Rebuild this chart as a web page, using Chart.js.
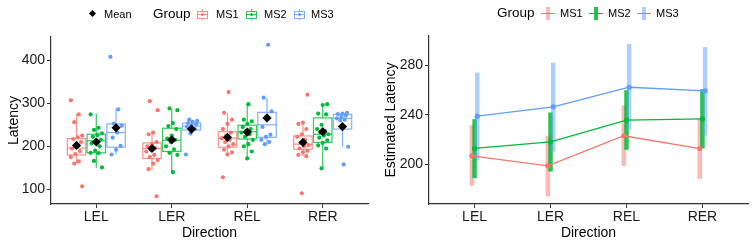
<!DOCTYPE html>
<html>
<head>
<meta charset="utf-8">
<script src="https://cdn.jsdelivr.net/npm/chart.js@4.4.0/dist/chart.umd.min.js"></script>
<style>
body { margin: 0; background: #fff; font-family: "Liberation Sans", Arial, sans-serif; }
#wrap { position: relative; width: 755px; height: 243px; overflow: hidden; }
canvas { position: absolute; top: 0; }
#leftChart { left: 0; }
#rightChart { left: 380px; }
.lg { position: absolute; top: 0; line-height: 28px; color: #000; white-space: nowrap; }
.lg.small { font-size: 11px; }
.lg.title { font-size: 13.5px; }
.diamond { position: absolute; top: 11px; left: 90px; width: 5px; height: 5px; background: #000; transform: rotate(45deg); }
.boxkey { position: absolute; top: 9px; width: 11px; height: 11px; }
.boxkey .b { position: absolute; left: 0; top: 2px; width: 9px; height: 6px; border: 1px solid; }
.boxkey .w { position: absolute; left: 5px; top: 0; width: 1px; height: 11px; }
.boxkey .m { position: absolute; left: 0; top: 5px; width: 11px; height: 1px; }
.boxkey .d { position: absolute; left: 4px; top: 4px; width: 3px; height: 3px; border-radius: 50%; }
.barkey { position: absolute; top: 7px; width: 14px; height: 13px; }
.barkey .v { position: absolute; left: 5px; top: 0; width: 4px; height: 13px; }
.barkey .h { position: absolute; left: 0; top: 6px; width: 14px; height: 1.3px; }
</style>
</head>
<body>
<div id="wrap">
  <canvas id="leftChart" width="380" height="243"></canvas>
  <canvas id="rightChart" width="375" height="243"></canvas>
  <div id="legends"></div>
</div>
<script>
// categories and groups
const directions = ['LEL', 'LER', 'REL', 'RER'];
const groups = ['MS1', 'MS2', 'MS3'];
const groupColors = ['#F8766D', '#00BA38', '#619CFF'];

// left panel: individual latencies, one list per direction
const ms1Points = [
  [307, 274, 256, 225, 221, 217, 210, 200, 195, 189, 182, 175, 165, 160, 107],
  [305, 284, 232, 228, 210, 205, 200, 196, 192, 188, 180, 175, 168, 160, 147, 84],
  [326, 278, 262, 252, 240, 232, 225, 219, 215, 210, 205, 200, 192, 186, 181, 128],
  [320, 255, 252, 240, 228, 222, 215, 208, 203, 200, 195, 190, 186, 180, 177, 91]
];
const ms2Points = [
  [274, 243, 238, 230, 226, 222, 215, 212, 207, 200, 190, 185, 184, 166, 151],
  [288, 284, 254, 247, 240, 225, 218, 215, 210, 200, 193, 185, 180, 140],
  [298, 262, 258, 252, 245, 240, 236, 232, 228, 222, 215, 205, 200, 188, 172],
  [298, 296, 276, 274, 250, 240, 236, 232, 228, 225, 220, 214, 208, 202, 195, 149]
];
const ms3Points = [
  [408, 286, 253, 248, 232, 220, 201, 192, 181],
  [262, 259, 257, 254, 251, 248, 245, 240, 230, 181],
  [436, 313, 281, 262, 245, 227, 222, 215, 210, 205],
  [278, 276, 275, 272, 268, 265, 262, 260, 199, 158]
];
// box stats per direction: [lower whisker, q1, median, q3, upper whisker]
const ms1Box = [[160, 180, 196, 218, 274], [147, 172, 195, 208, 230], [181, 198, 219, 234, 278], [177, 193, 205, 224, 257]];
const ms2Box = [[150, 185, 213, 228, 276], [140, 188, 214, 242, 288], [172, 217, 234, 249, 298], [149, 209, 228, 266, 299]];
const ms3Box = [[181, 198, 232, 252, 288], [226, 238, 247, 254, 261], [206, 221, 250, 279, 312], [199, 240, 265, 274, 280]];
const ms1Mean = [202, 195, 221, 209];
const ms2Mean = [210, 215, 233, 234];
const ms3Mean = [243, 240, 266, 246];
const latencyTicks = [100, 200, 300, 400];

// right panel: estimated latency with interval
const ms1Est = [206.7, 198.6, 223.0, 212.6];
const ms1Lo = [182.4, 173.7, 198.6, 188.0];
const ms1Hi = [231.6, 223.0, 247.8, 237.4];
const ms2Est = [212.7, 218.0, 235.7, 236.7];
const ms2Lo = [188.6, 194.0, 211.6, 212.7];
const ms2Hi = [236.5, 241.9, 260.0, 260.8];
const ms3Est = [238.9, 246.5, 262.4, 259.5];
const ms3Lo = [203.0, 210.0, 227.8, 223.0];
const ms3Hi = [274.3, 282.4, 297.6, 294.9];
const estTicks = [200, 240, 280];

const allPoints = [ms1Points, ms2Points, ms3Points];
const allBoxes = [ms1Box, ms2Box, ms3Box];
const allMeans = [ms1Mean, ms2Mean, ms3Mean];
const allEst = [ms1Est, ms2Est, ms3Est];
const allLo = [ms1Lo, ms2Lo, ms3Lo];
const allHi = [ms1Hi, ms2Hi, ms3Hi];

const boxDodge = [-0.262, 0, 0.262];
const boxHalf = 0.122;
const lineDodge = [-0.035, 0, 0.035];

function alpha(hex, a) {
  const n = parseInt(hex.slice(1), 16);
  return 'rgba(' + (n >> 16) + ',' + ((n >> 8) & 255) + ',' + (n & 255) + ',' + a + ')';
}

const axisColor = '#333333';
const tickFont = { family: '"Liberation Sans", Arial, sans-serif', size: 14 };
const titleFont = { family: '"Liberation Sans", Arial, sans-serif', size: 14 };

function xAxis() {
  return {
    type: 'linear', min: 0.4, max: 4.6,
    afterBuildTicks: s => { s.ticks = directions.map((_, i) => ({ value: i + 1 })); },
    afterFit: s => { s.height = 39; },
    ticks: { autoSkip: false, maxRotation: 0, padding: 1, color: '#1a1a1a', font: tickFont,
      callback: v => directions[Math.round(v) - 1] },
    grid: { drawOnChartArea: false, tickLength: 4, color: axisColor, lineWidth: 1 },
    border: { color: axisColor, width: 1.2 },
    title: { display: true, text: 'Direction', color: '#000', font: titleFont, padding: { top: 0, bottom: 1 } }
  };
}

function yAxis(min, max, ticks, title, width, titlePad) {
  return {
    type: 'linear', min: min, max: max,
    afterBuildTicks: s => { s.ticks = ticks.map(v => ({ value: v })); },
    afterFit: s => { s.width = width; },
    ticks: { padding: 2, color: '#1a1a1a', font: tickFont },
    grid: { drawOnChartArea: false, tickLength: 4, color: axisColor, lineWidth: 1 },
    border: { color: axisColor, width: 1.2 },
    title: { display: true, text: title, color: '#000', font: titleFont, padding: { top: titlePad, bottom: 0 } }
  };
}

// boxes drawn under the jittered points
const boxPlugin = {
  id: 'boxes',
  beforeDatasetsDraw(chart) {
    const { ctx, scales: { x, y } } = chart;
    allBoxes.forEach((boxes, g) => {
      boxes.forEach((s, d) => {
        const cx = d + 1 + boxDodge[g];
        const x0 = x.getPixelForValue(cx - boxHalf);
        const x1 = x.getPixelForValue(cx + boxHalf);
        const xm = x.getPixelForValue(cx);
        const [lo, q1, med, q3, hi] = s.map(v => y.getPixelForValue(v));
        ctx.save();
        ctx.strokeStyle = alpha(groupColors[g], 0.8);
        ctx.lineWidth = 1.2;
        ctx.beginPath();
        ctx.moveTo(xm, q3); ctx.lineTo(xm, hi);
        ctx.moveTo(xm, q1); ctx.lineTo(xm, lo);
        ctx.stroke();
        ctx.strokeRect(x0, q3, x1 - x0, q1 - q3);
        ctx.beginPath();
        ctx.moveTo(x0, med); ctx.lineTo(x1, med);
        ctx.stroke();
        ctx.restore();
      });
    });
  }
};

// thick translucent interval bars under the lines
const barAlpha = [0.5, 0.85, 0.5];
const barPlugin = {
  id: 'intervals',
  beforeDatasetsDraw(chart) {
    const { ctx, scales: { x, y } } = chart;
    allEst.forEach((est, g) => {
      est.forEach((_, d) => {
        const px = x.getPixelForValue(d + 1 + lineDodge[g]);
        ctx.save();
        ctx.strokeStyle = alpha(groupColors[g], barAlpha[g]);
        ctx.lineWidth = 4.5;
        ctx.beginPath();
        ctx.moveTo(px, y.getPixelForValue(allLo[g][d]));
        ctx.lineTo(px, y.getPixelForValue(allHi[g][d]));
        ctx.stroke();
        ctx.restore();
      });
    });
  }
};

const meanData = [];
allMeans.forEach((m, g) => m.forEach((v, d) => meanData.push({ x: d + 1 + boxDodge[g], y: v })));
const leftSets = [{
  label: 'Mean', data: meanData,
  pointStyle: 'rectRot', radius: 4.6, backgroundColor: '#000', borderColor: '#000', borderWidth: 0, order: 0
}];
allPoints.forEach((pts, g) => {
  const data = [];
  pts.forEach((list, d) => {
    list.forEach((v, i) => {
      const jit = (((i * 7 + d * 3) % 11) - 5) * 0.015;
      data.push({ x: d + 1 + boxDodge[g] + jit, y: v });
    });
  });
  leftSets.push({ label: groups[g], data: data, radius: 2.1, backgroundColor: groupColors[g], borderWidth: 0, order: 1 });
});

new Chart(document.getElementById('leftChart'), {
  type: 'scatter',
  data: { datasets: leftSets },
  options: {
    responsive: false, animation: false, devicePixelRatio: 1,
    layout: { padding: { top: 37, right: 12, left: 0, bottom: 0 } },
    plugins: { legend: { display: false }, tooltip: { enabled: false } },
    scales: { x: xAxis(), y: yAxis(66, 454, latencyTicks, 'Latency', 51, 6) }
  },
  plugins: [boxPlugin]
});

new Chart(document.getElementById('rightChart'), {
  type: 'line',
  data: {
    datasets: allEst.map((est, g) => ({
      label: groups[g],
      data: est.map((v, d) => ({ x: d + 1 + lineDodge[g], y: v })),
      borderColor: groupColors[g], backgroundColor: groupColors[g],
      borderWidth: 1.3, pointRadius: 2.6, pointBorderWidth: 0, tension: 0
    }))
  },
  options: {
    responsive: false, animation: false, devicePixelRatio: 1,
    layout: { padding: { top: 36, right: 7, left: 0, bottom: 0 } },
    plugins: { legend: { display: false }, tooltip: { enabled: false } },
    scales: { x: xAxis(), y: yAxis(167.6, 304, estTicks, 'Estimated Latency', 49, 3) }
  },
  plugins: [barPlugin]
});

// legends as html text
const lg = document.getElementById('legends');
let html = '<div class="diamond"></div><div class="lg small" style="left:104px">Mean</div>';
html += '<div class="lg title" style="left:153px">Group</div>';
const boxKeyX = [197, 246, 294];
const boxLabelX = [216, 264, 311];
groups.forEach((name, g) => {
  const c = alpha(groupColors[g], 0.8);
  html += '<div class="boxkey" style="left:' + boxKeyX[g] + 'px"><div class="w" style="background:' + c + '"></div>' +
    '<div class="b" style="border-color:' + c + ';background:#fff"></div><div class="m" style="background:' + c + '"></div>' +
    '<div class="d" style="background:' + groupColors[g] + '"></div></div>';
  html += '<div class="lg small" style="left:' + boxLabelX[g] + 'px">' + name + '</div>';
});
html += '<div class="lg title" style="left:497px;top:-1px">Group</div>';
const barKeyX = [541, 589, 637];
const barLabelX = [560, 608, 656];
groups.forEach((name, g) => {
  html += '<div class="barkey" style="left:' + barKeyX[g] + 'px"><div class="v" style="background:' + alpha(groupColors[g], barAlpha[g]) + '"></div>' +
    '<div class="h" style="background:' + groupColors[g] + '"></div></div>';
  html += '<div class="lg small" style="left:' + barLabelX[g] + 'px;top:-1px">' + name + '</div>';
});
lg.innerHTML = html;
</script>
</body>
</html>
